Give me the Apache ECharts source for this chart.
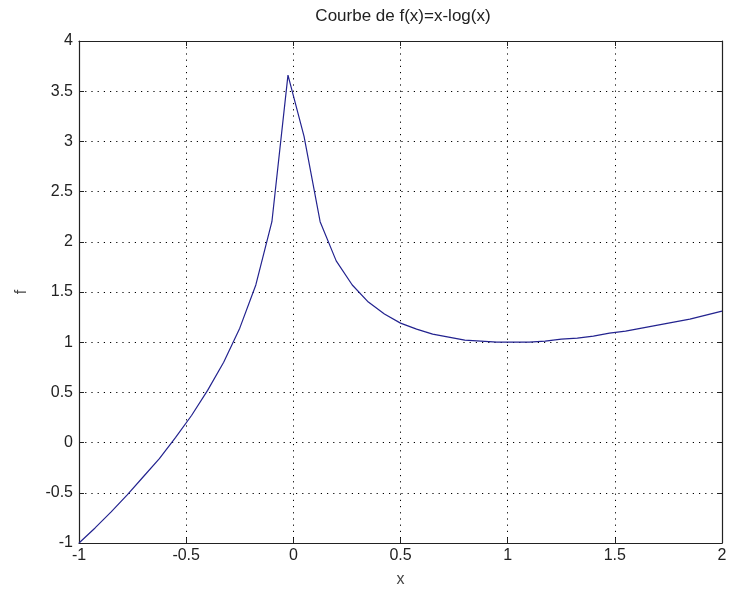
<!DOCTYPE html>
<html><head><meta charset="utf-8">
<script src="https://cdn.jsdelivr.net/npm/echarts@6/dist/echarts.min.js"></script>
<style>html,body{margin:0;padding:0;background:#fff}#c{width:730px;height:596px}</style>
</head><body><div id="c"></div>
<script>
const xValues = [-1, -0.925, -0.85, -0.775, -0.7, -0.625, -0.55, -0.475, -0.4, -0.325, -0.25, -0.175, -0.1, -0.025, 0.05, 0.125, 0.2, 0.275, 0.35, 0.425, 0.5, 0.575, 0.65, 0.725, 0.8, 0.875, 0.95, 1.025, 1.1, 1.175, 1.25, 1.325, 1.4, 1.475, 1.55, 1.625, 1.7, 1.775, 1.85, 1.925, 2];
const fValues = [-1.00, -0.85, -0.69, -0.52, -0.34, -0.16, 0.05, 0.27, 0.52, 0.80, 1.14, 1.57, 2.20, 3.66, 3.05, 2.20, 1.81, 1.57, 1.40, 1.28, 1.19, 1.13, 1.08, 1.05, 1.02, 1.01, 1.00, 1.00, 1.00, 1.01, 1.03, 1.04, 1.06, 1.09, 1.11, 1.14, 1.17, 1.20, 1.23, 1.27, 1.31];
const titleText = 'Courbe de f(x)=x-log(x)';
const xName = 'x';
const yName = 'f';

const chart = echarts.init(document.getElementById('c'), null, {renderer: 'canvas'});
const font = '"Liberation Sans", Arial, sans-serif';
const grid = {left: 79, right: 8, top: 41, bottom: 53};
const dotted = {show: true, lineStyle: {color: '#000', type: [1.2, 5], width: 1}};
const axisLineStyle = {show: true, onZero: false, lineStyle: {color: '#222', width: 1.2}};
const tick = {show: true, inside: true, length: 5, lineStyle: {color: '#222'}};
chart.setOption({
  backgroundColor: '#fff',
  animation: false,
  title: {text: titleText, left: 398, top: 3, textAlign: 'center',
    textStyle: {fontFamily: font, fontSize: 17, fontWeight: 'normal', color: '#222'}},
  grid: grid,
  xAxis: [{
    type: 'value', min: -1, max: 2, interval: 0.5, position: 'bottom',
    name: xName, nameLocation: 'middle', nameGap: 29,
    nameTextStyle: {fontFamily: font, fontSize: 16, color: '#444'},
    axisLine: axisLineStyle, axisTick: tick, splitLine: dotted,
    axisLabel: {fontFamily: font, fontSize: 16, color: '#222', margin: 5}
  }, {
    type: 'value', min: -1, max: 2, interval: 0.5, position: 'top',
    axisLine: axisLineStyle, axisTick: tick, splitLine: {show: false}, axisLabel: {show: false}
  }],
  yAxis: [{
    type: 'value', min: -1, max: 4, interval: 0.5, position: 'left',
    name: yName, nameLocation: 'middle', nameGap: 49, nameRotate: 90,
    nameTextStyle: {fontFamily: font, fontSize: 16, color: '#444'},
    axisLine: axisLineStyle, axisTick: tick, splitLine: dotted,
    axisLabel: {fontFamily: font, fontSize: 16, color: '#222', margin: 6}
  }, {
    type: 'value', min: -1, max: 4, interval: 0.5, position: 'right',
    axisLine: axisLineStyle, axisTick: tick, splitLine: {show: false}, axisLabel: {show: false}
  }],
  series: [{
    type: 'line', xAxisIndex: 0, yAxisIndex: 0,
    data: xValues.map((x, i) => [x, fValues[i]]),
    showSymbol: false, smooth: false,
    lineStyle: {color: '#23238f', width: 1.2}
  }]
});
</script></body></html>
